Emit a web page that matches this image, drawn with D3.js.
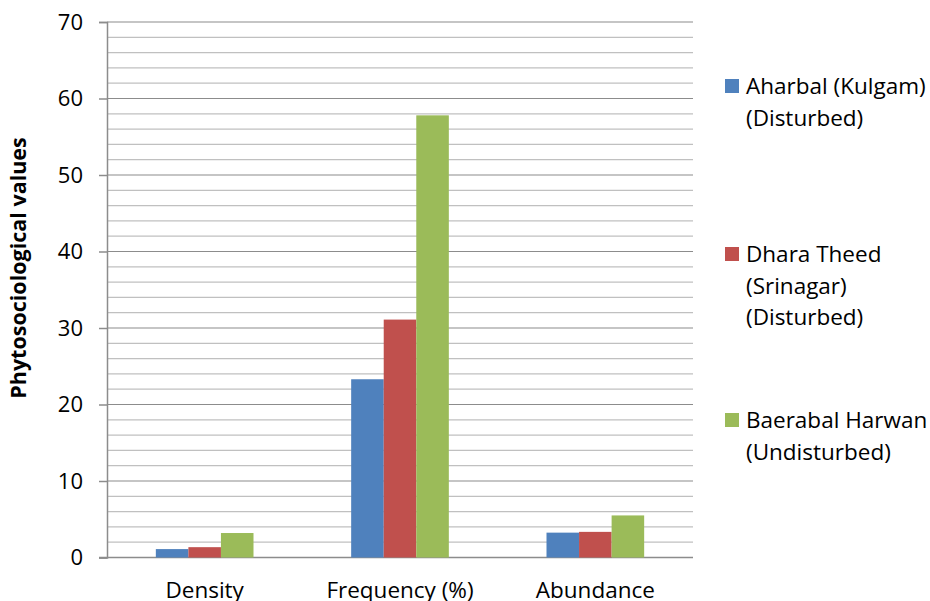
<!DOCTYPE html>
<html><head><meta charset="utf-8">
<script src="https://cdn.jsdelivr.net/npm/d3@7"></script>
<style>body{margin:0;background:#fff}svg{display:block}</style>
</head><body>
<svg id="c" width="930" height="601"></svg>
<script>
const categories = ["Density", "Frequency (%)", "Abundance"];
const seriesNames = [["Aharbal (Kulgam)", "(Disturbed)"], ["Dhara Theed", "(Srinagar)", "(Disturbed)"], ["Baerabal Harwan", "(Undisturbed)"]];
const aharbal = [1.1, 23.3, 3.25];
const dharaTheed = [1.35, 31.1, 3.35];
const baerabal = [3.2, 57.8, 5.5];
const yTicks = [0, 10, 20, 30, 40, 50, 60, 70];
const colors = ["#4F81BD", "#C0504D", "#9BBB59"];

const series = [aharbal, dharaTheed, baerabal];
const svg = d3.select("#c");
const font = "'Open Sans', sans-serif";
const L = 107, R = 693, T = 22, B = 557.5;

const y = d3.scaleLinear().domain([0, 70]).range([B, T]);
const x0 = d3.scaleBand().domain(categories).range([L, R]).paddingInner(0.5).paddingOuter(0.25);
const x1 = d3.scaleBand().domain([0, 1, 2]).range([0, x0.bandwidth()]);

// minor gridlines
const minor = d3.range(2, 70, 2).filter(v => v % 10 !== 0);
svg.append("g").selectAll("line").data(minor).join("line")
  .attr("x1", L).attr("x2", R).attr("y1", d => y(d)).attr("y2", d => y(d))
  .attr("stroke", "#C0C0C0").attr("stroke-width", 1.2);
// major gridlines
svg.append("g").selectAll("line").data(yTicks.filter(v => v > 0)).join("line")
  .attr("x1", L).attr("x2", R).attr("y1", d => y(d)).attr("y2", d => y(d))
  .attr("stroke", "#8C8C8C").attr("stroke-width", 1.2);

// y axis
const yAxis = svg.append("g").attr("transform", `translate(${L},0)`)
  .call(d3.axisLeft(y).tickValues(yTicks).tickSize(8).tickPadding(16));
yAxis.select(".domain").attr("stroke", "#8C8C8C").attr("stroke-width", 1.5);
yAxis.selectAll(".tick line").attr("stroke", "#8C8C8C").attr("stroke-width", 1.5);
yAxis.selectAll(".tick text").attr("font-family", font).attr("font-size", 22).attr("fill", "#000");

// x axis
const xAxis = svg.append("g").attr("transform", `translate(0,${B})`)
  .call(d3.axisBottom(x0).tickSize(0).tickPadding(25));
xAxis.select(".domain").attr("d", `M${L - 8},0H${R}`).attr("stroke", "#8C8C8C").attr("stroke-width", 1.5);
xAxis.selectAll(".tick text").attr("font-family", font).attr("font-size", 22.5).attr("fill", "#000");

// bars
const groups = svg.append("g").selectAll("g").data(categories).join("g")
  .attr("transform", d => `translate(${x0(d)},0)`);
groups.selectAll("rect").data((d, i) => series.map((s, k) => ({k, v: s[i]}))).join("rect")
  .attr("x", d => x1(d.k)).attr("width", x1.bandwidth())
  .attr("y", d => y(d.v)).attr("height", d => B - y(d.v))
  .attr("fill", d => colors[d.k]);

// y title
svg.append("text").attr("transform", "translate(26,268) rotate(-90)")
  .attr("text-anchor", "middle").attr("font-family", font).attr("font-weight", "bold")
  .attr("font-size", 21.5).text("Phytosociological values");

// legend
const legendY = [94, 262, 428];
const lg = svg.append("g").selectAll("g").data(seriesNames).join("g")
  .attr("transform", (d, i) => `translate(0,${legendY[i]})`);
lg.append("rect").attr("x", 725).attr("y", -15).attr("width", 14).attr("height", 14)
  .attr("fill", (d, i) => colors[i]);
lg.each(function(lines) {
  d3.select(this).selectAll("text").data(lines).join("text")
    .attr("x", 746).attr("y", (t, j) => j * 31.5)
    .attr("font-family", font).attr("font-size", 22.5).attr("fill", "#000").text(t => t);
});
</script>
</body></html>
